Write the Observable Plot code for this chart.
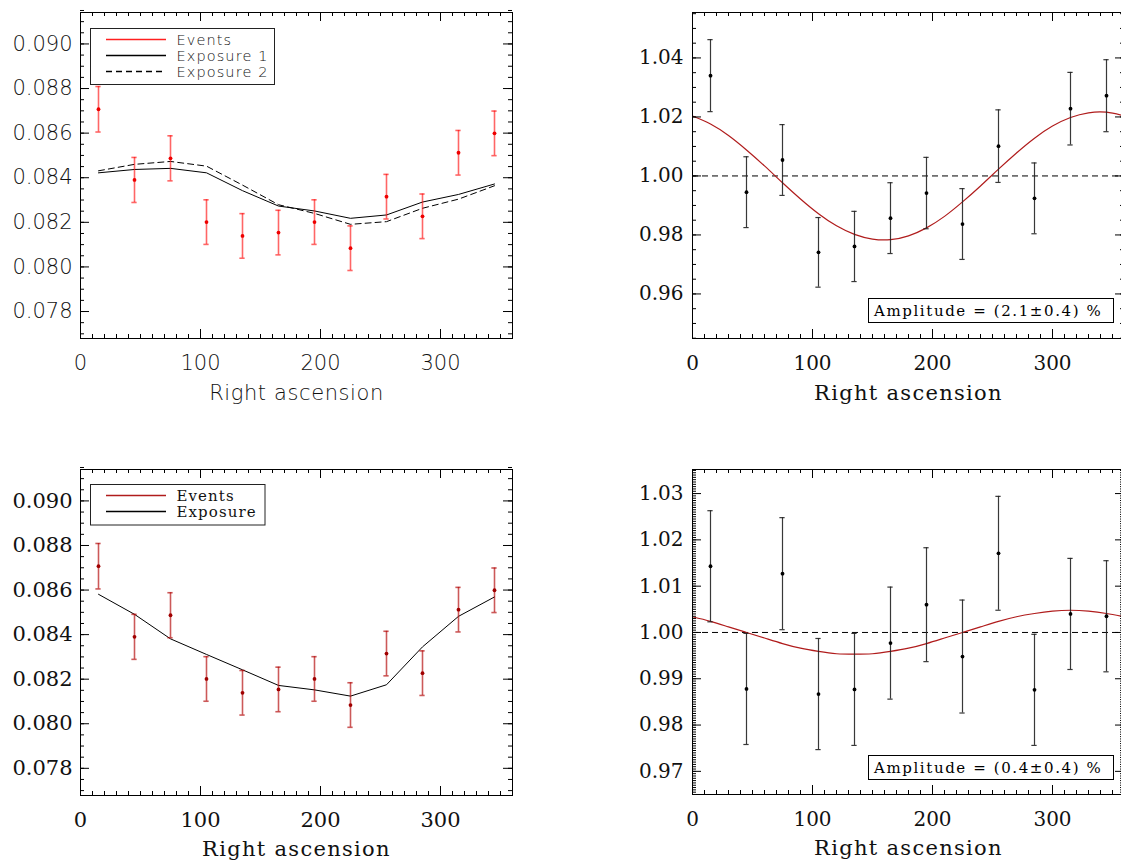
<!DOCTYPE html>
<html>
<head>
<meta charset="utf-8">
<script src="https://cdn.jsdelivr.net/npm/d3@7"></script>
<script src="https://cdn.jsdelivr.net/npm/@observablehq/plot@0.6"></script>
<style>
html, body { margin: 0; padding: 0; background: #fff; overflow: hidden; }
#wrap { position: relative; width: 1121px; height: 861px; overflow: hidden; background: #fff; }
#wrap > svg { position: absolute; }
</style>
</head>
<body>
<div id="wrap"></div>
<script>
// ---------------- data ----------------
const raBins = [15, 45, 75, 105, 135, 165, 195, 225, 255, 285, 315, 345];
const eventRate = [0.08707, 0.08390, 0.08487, 0.08201, 0.08139, 0.08154, 0.08201, 0.08084, 0.08315, 0.08227, 0.08512, 0.08599];
const eventErr = [0.00102, 0.00101, 0.00101, 0.00100, 0.00100, 0.00100, 0.00100, 0.00100, 0.00100, 0.00100, 0.00100, 0.00100];
const exposure1 = [0.08422, 0.08437, 0.08442, 0.08422, 0.08342, 0.08273, 0.08251, 0.08218, 0.08233, 0.08291, 0.08325, 0.08372];
const exposure2 = [0.08431, 0.08460, 0.08473, 0.08452, 0.08367, 0.08279, 0.08240, 0.08191, 0.08203, 0.08263, 0.08304, 0.08364];
const exposure = [0.08581, 0.08491, 0.08381, 0.08311, 0.08242, 0.08172, 0.08152, 0.08124, 0.08175, 0.08345, 0.08482, 0.08569];

const ratioTop = [1.0340, 0.9945, 1.0054, 0.9741, 0.9761, 0.9857, 0.9942, 0.9837, 1.0101, 0.9924, 1.0228, 1.0272];
const ratioTopErr = [0.0122, 0.0120, 0.0120, 0.0118, 0.0119, 0.0120, 0.0121, 0.0120, 0.0123, 0.0120, 0.0123, 0.0122];
const ratioBottom = [1.0143, 0.9878, 1.0127, 0.9867, 0.9877, 0.9977, 1.0060, 0.9948, 1.0171, 0.9876, 1.0040, 1.0035];
const ratioBottomErr = [0.0120, 0.0120, 0.0121, 0.0120, 0.0121, 0.0121, 0.0123, 0.0122, 0.0123, 0.0120, 0.0120, 0.0120];

const fitRa = [0, 15, 30, 45, 60, 75, 90, 105, 120, 135, 150, 165, 180, 195, 210, 225, 240, 255, 270, 285, 300, 315, 330, 345, 360];
const fitTop = [1.0203, 1.0176, 1.0137, 1.0088, 1.0034, 0.9977, 0.9922, 0.9872, 0.9831, 0.9802, 0.9786, 0.9784, 0.9797, 0.9824, 0.9863, 0.9912, 0.9966, 1.0023, 1.0078, 1.0128, 1.0169, 1.0198, 1.0214, 1.0216, 1.0203];
const fitBottom = [1.0034, 1.0024, 1.0012, 1.0000, 0.9988, 0.9976, 0.9966, 0.9959, 0.9954, 0.9953, 0.9954, 0.9959, 0.9966, 0.9976, 0.9988, 1.0000, 1.0012, 1.0024, 1.0034, 1.0041, 1.0046, 1.0048, 1.0046, 1.0041, 1.0034];

const xTickLabels = [0, 100, 200, 300];
const rateTickLabels = [0.078, 0.080, 0.082, 0.084, 0.086, 0.088, 0.090];
const ratioTopTickLabels = [0.96, 0.98, 1.00, 1.02, 1.04];
const ratioBottomTickLabels = [0.97, 0.98, 0.99, 1.00, 1.01, 1.02, 1.03];

const xAxisTitle = "Right ascension";
const legendTop = ["Events", "Exposure 1", "Exposure 2"];
const legendBottom = ["Events", "Exposure"];
const amplitudeTexts = ["Amplitude = (2.1\u00b10.4) %", "Amplitude = (0.4\u00b10.4) %"];

// ---------------- tables ----------------
const events = raBins.map((x, i) => ({x, y: eventRate[i], e: eventErr[i]}));
const exp1 = raBins.map((x, i) => ({x, y: exposure1[i]}));
const exp2 = raBins.map((x, i) => ({x, y: exposure2[i]}));
const expB = raBins.map((x, i) => ({x, y: exposure[i]}));
const rTop = raBins.map((x, i) => ({x, y: ratioTop[i], e: ratioTopErr[i]}));
const rBot = raBins.map((x, i) => ({x, y: ratioBottom[i], e: ratioBottomErr[i]}));
const fTop = fitRa.map((x, i) => ({x, y: fitTop[i]}));
const fBot = fitRa.map((x, i) => ({x, y: fitBottom[i]}));

const SANS = "'DejaVu Sans', sans-serif";
const SERIF = "'DejaVu Serif', serif";

function steps(lo, hi, step) {
  const n = Math.round((hi - lo) / step);
  return d3.range(n + 1).map(i => +(lo + i * step).toFixed(6));
}

function errorMarks(data, color, opacity, width, dotColor) {
  return [
    Plot.ruleX(data, {x: "x", y1: d => d.y - d.e, y2: d => d.y + d.e, stroke: color, strokeOpacity: opacity, strokeWidth: width}),
    Plot.ruleY(data, {y: d => d.y + d.e, x1: d => d.x - 2.2, x2: d => d.x + 2.2, stroke: color, strokeOpacity: opacity, strokeWidth: width}),
    Plot.ruleY(data, {y: d => d.y - d.e, x1: d => d.x - 2.2, x2: d => d.x + 2.2, stroke: color, strokeOpacity: opacity, strokeWidth: width}),
    Plot.dot(data, {x: "x", y: "y", r: 1.9, fill: dotColor, stroke: null})
  ];
}

function panel(o) {
  const W = o.width - o.ml - o.mr;
  const H = o.height - o.mt - o.mb;
  const xMinor = steps(0, 360, 10);
  const yMinor = steps(o.yMinorStart, o.yDomain[1], o.yMinorStep).filter(v => v >= o.yDomain[0]);
  const tk = {stroke: "#000", strokeWidth: 1};
  const svg = Plot.plot({
    width: o.width,
    height: o.height,
    marginLeft: o.ml, marginRight: o.mr, marginTop: o.mt, marginBottom: o.mb,
    x: {domain: [0, 360], axis: null},
    y: {domain: o.yDomain, axis: null},
    style: {fontFamily: o.font, background: "transparent", overflow: "visible", color: "#000"},
    marks: [
      ...o.marks,
      Plot.frame({stroke: "#000", strokeWidth: 1}),
      Plot.tickX(xMinor, {x: d => d, insetTop: H - 4, ...tk}),
      Plot.tickX(xMinor, {x: d => d, insetBottom: H - 4, ...tk}),
      Plot.tickX(xTickLabels, {x: d => d, insetTop: H - 9, ...tk}),
      Plot.tickX(xTickLabels, {x: d => d, insetBottom: H - 9, ...tk}),
      Plot.tickY(yMinor, {y: d => d, insetRight: W - 4, ...tk}),
      Plot.tickY(yMinor, {y: d => d, insetLeft: W - 4, ...tk}),
      Plot.tickY(o.yTicks, {y: d => d, insetRight: W - 9, ...tk}),
      Plot.tickY(o.yTicks, {y: d => d, insetLeft: W - 9, ...tk}),
      Plot.axisX(xTickLabels, {anchor: "bottom", tickSize: 0, tickPadding: o.xPad, fontSize: o.fs, label: null, fill: "#111"}),
      Plot.axisY(o.yTicks, {anchor: "left", tickSize: 0, tickPadding: o.yPad, fontSize: o.fs, label: null, tickFormat: o.fmt, fill: "#111"}),
      Plot.text([xAxisTitle], {frameAnchor: "bottom", dy: o.titleDy, text: d => d, fontSize: o.titleFs, fill: "#111", className: "axtitle"})
    ]
  });
  svg.style.left = o.left + "px";
  svg.style.top = o.top + "px";
  if (o.fontWeight) d3.select(svg).selectAll("text").style("font-weight", o.fontWeight);
  if (o.titleSpacing) d3.select(svg).selectAll(".axtitle text").style("letter-spacing", o.titleSpacing);
  document.getElementById("wrap").appendChild(svg);
  return svg;
}

// Top-left
panel({
  left: 0, top: 0, width: 560, height: 420, ml: 80, mr: 48, mt: 12, mb: 82,
  yDomain: [0.07679, 0.09141], yTicks: rateTickLabels, yMinorStart: 0.0770, yMinorStep: 0.0005,
  fmt: d3.format(".3f"), font: SANS, fontWeight: 300, fs: 21, titleFs: 21, xPad: 17, yPad: 8, titleDy: 61, titleSpacing: "0.6px",
  marks: [
    Plot.line(exp1, {x: "x", y: "y", stroke: "#000", strokeWidth: 1}),
    Plot.line(exp2, {x: "x", y: "y", stroke: "#000", strokeWidth: 1, strokeDasharray: "6,4"}),
    ...errorMarks(events, "#ff0000", 0.6, 1.6, "#ee0000")
  ]
});

// Top-right
panel({
  left: 600, top: 0, width: 540, height: 420, ml: 92, mr: 16, mt: 12, mb: 82,
  yDomain: [0.9449, 1.0554], yTicks: ratioTopTickLabels, yMinorStart: 0.945, yMinorStep: 0.005,
  fmt: d3.format(".2f"), font: SERIF, fs: 20, titleFs: 21, xPad: 17, yPad: 9, titleDy: 61, titleSpacing: "1.3px",
  marks: [
    Plot.ruleY([1], {stroke: "#000", strokeWidth: 1, strokeDasharray: "6,4"}),
    Plot.line(fTop, {x: "x", y: "y", curve: "natural", stroke: "#b01c1c", strokeWidth: 1.2}),
    ...errorMarks(rTop, "#222", 0.9, 1.2, "#000")
  ]
});

// Bottom-left
panel({
  left: 0, top: 440, width: 560, height: 421, ml: 80, mr: 48, mt: 29, mb: 66,
  yDomain: [0.07678, 0.09141], yTicks: rateTickLabels, yMinorStart: 0.0770, yMinorStep: 0.0005,
  fmt: d3.format(".3f"), font: SERIF, fs: 21, titleFs: 21, xPad: 17, yPad: 8, titleDy: 60, titleSpacing: "1.3px",
  marks: [
    Plot.line(expB, {x: "x", y: "y", stroke: "#000", strokeWidth: 1}),
    ...errorMarks(events, "#b00000", 0.65, 1.6, "#a00000")
  ]
});

// Bottom-right
panel({
  left: 600, top: 440, width: 540, height: 421, ml: 92, mr: 16, mt: 29, mb: 67,
  yDomain: [0.9650, 1.0352], yTicks: ratioBottomTickLabels, yMinorStart: 0.965, yMinorStep: 0.0005,
  fmt: d3.format(".2f"), font: SERIF, fs: 20, titleFs: 21, xPad: 17, yPad: 9, titleDy: 60, titleSpacing: "1.3px",
  marks: [
    Plot.ruleY([1], {stroke: "#000", strokeWidth: 1, strokeDasharray: "6,4"}),
    Plot.line(fBot, {x: "x", y: "y", curve: "natural", stroke: "#b01c1c", strokeWidth: 1.2}),
    ...errorMarks(rBot, "#222", 0.9, 1.2, "#000")
  ]
});

// ---------------- overlays: legends & annotation boxes ----------------
const ov = d3.select("#wrap").append("svg")
  .attr("width", 1121).attr("height", 861)
  .style("left", "0px").style("top", "0px").style("pointer-events", "none");

function legend(x, y, w, h, rows, colors, dashes, font, fs, weight, spacing) {
  ov.append("rect").attr("x", x).attr("y", y).attr("width", w).attr("height", h)
    .attr("fill", "#fff").attr("stroke", "#222").attr("stroke-width", 1);
  rows.forEach((label, i) => {
    const ry = y + 11 + i * 16;
    ov.append("line").attr("x1", x + 15.5).attr("x2", x + 75.5).attr("y1", ry).attr("y2", ry)
      .style("stroke", colors[i]).style("stroke-width", "1.3px")
      .style("stroke-dasharray", dashes[i]);
    ov.append("text").attr("x", x + 86).attr("y", ry + 0.35 * fs)
      .attr("font-family", font).attr("font-size", fs).attr("font-weight", weight)
      .style("letter-spacing", spacing).attr("fill", "#111").text(label);
  });
}
legend(90.5, 28.5, 184, 56, legendTop,
  ["#ff2020", "#000", "#000"], ["none", "none", "6,4"], SANS, 14.5, 300, "1.1px");
legend(90.5, 484.5, 174.5, 40.5, legendBottom,
  ["#b01c1c", "#000"], ["none", "none"], SERIF, 15, 400, "1.1px");

function ampBox(y, text) {
  ov.append("rect").attr("x", 868.5).attr("y", y).attr("width", 245).attr("height", 24)
    .attr("fill", "#fff").attr("stroke", "#000").attr("stroke-width", 1);
  ov.append("text").attr("x", 874).attr("y", y + 17.5)
    .attr("font-family", SERIF).attr("font-size", 15).style("letter-spacing", "1.6px")
    .attr("fill", "#000").text(text);
}
ampBox(298.5, amplitudeTexts[0]);
ampBox(755.5, amplitudeTexts[1]);
</script>
</body>
</html>
